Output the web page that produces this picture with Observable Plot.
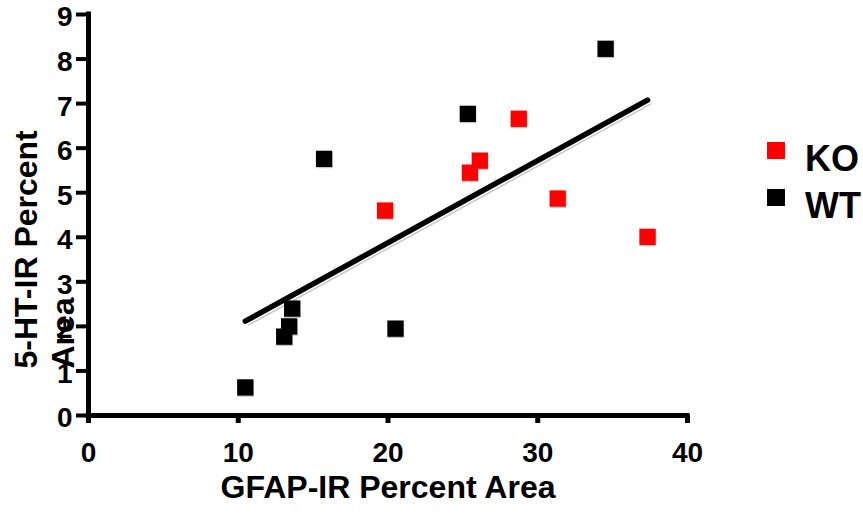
<!DOCTYPE html>
<html>
<head>
<meta charset="utf-8">
<script src="https://cdn.jsdelivr.net/npm/d3@7"></script>
<script src="https://cdn.jsdelivr.net/npm/@observablehq/plot@0.6"></script>
<style>
  html, body { margin: 0; padding: 0; background: #fff; overflow: hidden; }
  #wrap { position: relative; width: 863px; height: 514px; font-family: "Liberation Sans", Arial, sans-serif; }
  #wrap svg text { font-weight: bold; }
  #wrap svg .ticklab text { font-size: 28px !important; font-family: "Liberation Sans", Arial, sans-serif !important; }
  .lg-sw { position: absolute; width: 18px; height: 17px; }
  .lg-tx { position: absolute; font-size: 36px; line-height: 36px; font-weight: bold; color: #000; white-space: nowrap; }
</style>
</head>
<body>
<div id="wrap"></div>
<script>
// ---- data ----
const groups = ["KO", "WT"];
const groupColors = ["#ff0000", "#000000"];
const koX = [19.8, 25.47, 26.13, 28.73, 31.33, 37.33];
const koY = [4.6, 5.45, 5.72, 6.66, 4.87, 4.01];
const wtX = [10.47, 13.07, 13.4, 13.6, 15.73, 20.5, 25.33, 34.53];
const wtY = [0.63, 1.77, 2.0, 2.4, 5.76, 1.95, 6.77, 8.23];
const xTicks = [0, 10, 20, 30, 40];
const yTicks = [0, 1, 2, 3, 4, 5, 6, 7, 8, 9];
const xLabel = "GFAP-IR Percent Area";
const yLabelLines = ["5-HT-IR Percent", "Area"];

const points = [
  ...koX.map((x, i) => ({group: "KO", x, y: koY[i]})),
  ...wtX.map((x, i) => ({group: "WT", x, y: wtY[i]}))
];

const font = "'Liberation Sans', Arial, sans-serif";

const chart = Plot.plot({
  width: 863,
  height: 514,
  marginLeft: 88,
  marginRight: 176,
  marginTop: 14,
  marginBottom: 99,
  style: {fontFamily: font, background: "#fff", overflow: "visible"},
  x: {domain: [0, 40], label: null},
  y: {domain: [0, 9], label: null},
  color: {domain: groups, range: groupColors},
  marks: [
    // regression line shadow + line (computed from all points)
    Plot.linearRegressionY(points, {x: "x", y: "y", ci: 0, stroke: "#c8c8c8", strokeWidth: 1.5, dx: 3, dy: 4}),
    Plot.linearRegressionY(points, {x: "x", y: "y", ci: 0, stroke: "#000", strokeWidth: 5.5}),
    // square shadows + squares
    Plot.dot(points, {x: "x", y: "y", symbol: "square", r: 9.2, fill: "#c4c4c4", dx: 0.5, dy: 1.2}),
    Plot.dot(points, {x: "x", y: "y", symbol: "square", r: 9.2, fill: "group"}),
    // axis ticks
    Plot.axisY({ticks: yTicks, tickSize: 12, strokeWidth: 4, tickFormat: () => "", label: null}),
    Plot.axisX({ticks: xTicks, tickSize: 8, strokeWidth: 5, tickFormat: () => "", label: null}),
    // axis tick labels
    Plot.axisY({ticks: yTicks, tickSize: 0, tickPadding: 16, dy: 3, fontSize: 28, fontWeight: "bold", fill: "#000", label: null, className: "ticklab"}),
    Plot.axisX({ticks: xTicks, tickSize: 0, tickPadding: 27, fontSize: 28, fontWeight: "bold", fill: "#000", label: null, className: "ticklab"}),
    // axis lines
    Plot.ruleX([0], {stroke: "#000", strokeWidth: 5, strokeLinecap: "square"}),
    Plot.ruleY([0], {stroke: "#000", strokeWidth: 5, strokeLinecap: "square"}),
    // axis titles
    Plot.text([xLabel], {text: d => d, frameAnchor: "bottom", dy: 82, fontSize: 32, fontWeight: "bold", fill: "#000"}),
    Plot.text([yLabelLines[0]], {text: d => d, frameAnchor: "left", rotate: -90, textAnchor: "start", dx: -62, dy: 153.5, fontSize: 32, fontWeight: "bold", fill: "#000"}),
    Plot.text([yLabelLines[1]], {text: d => d, frameAnchor: "left", rotate: -90, textAnchor: "start", dx: -25, dy: 153.5, fontSize: 32, fontWeight: "bold", fill: "#000"})
  ]
});

const wrap = document.getElementById("wrap");
wrap.appendChild(chart);

// legend (HTML, right side)
groups.forEach((g, i) => {
  const sw = document.createElement("div");
  sw.className = "lg-sw";
  sw.style.left = "767px";
  sw.style.top = (142 + i * 47) + "px";
  sw.style.background = groupColors[i];
  wrap.appendChild(sw);
  const tx = document.createElement("div");
  tx.className = "lg-tx";
  tx.style.left = "805px";
  tx.style.top = (140.5 + i * 47) + "px";
  tx.textContent = g;
  wrap.appendChild(tx);
});
</script>
</body>
</html>
